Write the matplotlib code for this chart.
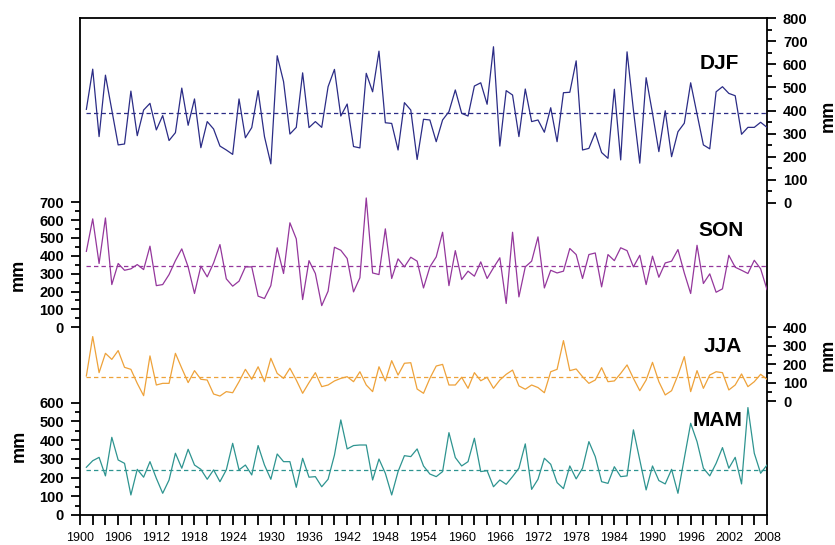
import matplotlib
matplotlib.use("Agg")
import matplotlib.pyplot as plt
from matplotlib.ticker import FixedLocator, NullFormatter

plt.rcParams['font.family'] = ['Liberation Sans', 'DejaVu Sans']

# seasonal precipitation, mm, 1901-2008
years = list(range(1901, 2009))

djf = [405, 579, 287, 553, 402, 251, 255, 484, 291, 402,
       431, 316, 378, 270, 304, 497, 336, 450, 239, 352,
       320, 246, 229, 210, 450, 282, 326, 486, 287, 169,
       637, 525, 298, 327, 563, 326, 352, 327, 503, 578,
       376, 428, 244, 238, 561, 481, 657, 347, 344, 229,
       434, 402, 188, 362, 359, 265, 359, 395, 489, 388,
       376, 506, 520, 427, 676, 246, 486, 467, 287, 493,
       352, 359, 306, 412, 265, 477, 479, 615, 229, 236,
       304, 218, 193, 492, 186, 654, 402, 172, 542, 388,
       222, 399, 200, 308, 345, 520, 385, 251, 234, 481,
       503, 474, 464, 297, 327, 327, 349, 327]

son = [425, 607, 357, 612, 239, 357, 319, 327, 351, 323,
       454, 233, 239, 295, 373, 439, 338, 189, 342, 282,
       360, 463, 271, 230, 258, 338, 338, 174, 161, 233,
       445, 301, 585, 495, 155, 373, 301, 121, 202, 448,
       431, 385, 198, 277, 724, 304, 295, 551, 273, 383,
       338, 392, 370, 220, 338, 394, 532, 233, 429, 267,
       314, 286, 366, 273, 333, 389, 133, 532, 170, 338,
       370, 506, 220, 319, 304, 314, 441, 407, 273, 407,
       416, 226, 407, 373, 445, 429, 338, 403, 239, 398,
       280, 360, 370, 435, 304, 189, 459, 245, 299, 196,
       215, 403, 336, 319, 301, 375, 327, 211]

jja = [136, 350, 154, 259, 226, 274, 183, 172, 96, 29,
       245, 87, 96, 96, 259, 178, 100, 165, 118, 114,
       38, 27, 51, 45, 105, 172, 118, 186, 105, 232,
       150, 123, 178, 114, 42, 100, 154, 78, 87, 109,
       123, 132, 105, 159, 87, 51, 186, 109, 219, 141,
       205, 208, 65, 42, 123, 190, 199, 87, 87, 129,
       69, 154, 110, 129, 69, 114, 145, 168, 82, 64,
       87, 73, 45, 159, 172, 328, 165, 174, 132, 96,
       114, 181, 105, 109, 150, 196, 123, 56, 114, 210,
       105, 33, 56, 141, 241, 51, 165, 69, 141, 159,
       154, 60, 87, 147, 78, 105, 145, 118]

mam = [255, 290, 308, 209, 415, 294, 276, 107, 244, 202,
       285, 196, 116, 187, 330, 250, 351, 267, 244, 191,
       241, 178, 241, 383, 241, 267, 214, 371, 267, 191,
       326, 285, 285, 148, 303, 202, 205, 151, 191, 320,
       508, 353, 371, 374, 374, 187, 299, 223, 107, 232,
       317, 312, 353, 262, 219, 205, 232, 440, 307, 262,
       285, 410, 232, 237, 151, 187, 164, 205, 250, 380,
       137, 191, 303, 271, 173, 141, 262, 193, 250, 392,
       312, 178, 169, 258, 205, 209, 455, 294, 134, 262,
       184, 166, 244, 116, 303, 490, 392, 250, 209, 276,
       360, 250, 308, 166, 574, 330, 223, 267]

djf_mean = 390
son_mean = 345
jja_mean = 130
mam_mean = 242

# figure geometry in pixels
W, H = 835, 545
L, R, T, B = 80, 767, 18, 515
rect = [L / W, 1 - B / H, (R - L) / W, (B - T) / H]

fig = plt.figure(figsize=(W / 100, H / 100), dpi=100)

base = fig.add_axes(rect)
base.set_xlim(1900, 2008)
base.set_yticks([])
for s in base.spines.values():
    s.set_linewidth(1.3)
base.xaxis.set_major_locator(FixedLocator(list(range(1900, 2009, 6))))
base.xaxis.set_minor_locator(FixedLocator(list(range(1900, 2009, 2))))
base.tick_params(axis='x', which='both', direction='out', length=7,
                 width=1.3, pad=5, labelsize=9)

# name, values, mean, colour, side, zero pixel, pixels per 100, top tick, label pos, mm pos
panels = [
    ('DJF', djf, djf_mean, '#2B2C86', 'right', 202.5, 23.125, 800, (719, 63), (828, 116)),
    ('SON', son, son_mean, '#94379C', 'left', 327.2, 17.857, 700, (721, 230), (18, 275)),
    ('JJA', jja, jja_mean, '#EEA23A', 'right', 401.0, 18.42, 400, (723, 346), (828, 355)),
    ('MAM', mam, mam_mean, '#2E9490', 'left', 515.0, 18.72, 600, (718, 420), (19, 446)),
]

for name, vals, mean, col, side, zero, per100, top, lab, mm in panels:
    ax = fig.add_axes(rect)
    ax.patch.set_visible(False)
    for s in ax.spines.values():
        s.set_visible(False)
    ax.set_xlim(1900, 2008)
    ax.xaxis.set_visible(False)
    k = per100 / 100.0
    ax.set_ylim((zero - B) / k, max((zero - T) / k, top) + 0.5)
    ax.plot(years, vals, color=col, lw=0.9)
    ax.hlines(mean, years[0], years[-1], colors=col, lw=0.9,
              linestyles=(0, (3.5, 2.5)))
    ax.yaxis.set_ticks_position(side)
    ax.yaxis.set_major_locator(FixedLocator(list(range(0, top + 1, 100))))
    ax.yaxis.set_minor_locator(FixedLocator(list(range(50, top, 100))))
    ax.yaxis.set_minor_formatter(NullFormatter())
    ax.tick_params(axis='y', which='major', direction='out', length=6.5,
                   width=1.3, pad=5, labelsize=10.5)
    ax.tick_params(axis='y', which='minor', direction='out', length=3.3,
                   width=1.3)
    for t in ax.get_yticklabels():
        t.set_fontweight('bold')
    fig.text(lab[0] / W, 1 - lab[1] / H, name, ha='center', va='center',
             fontsize=15, fontweight='bold')
    fig.text(mm[0] / W, 1 - mm[1] / H, 'mm', ha='center', va='center',
             rotation=90, fontsize=13, fontweight='bold')

fig.savefig('out.png', dpi=100)
